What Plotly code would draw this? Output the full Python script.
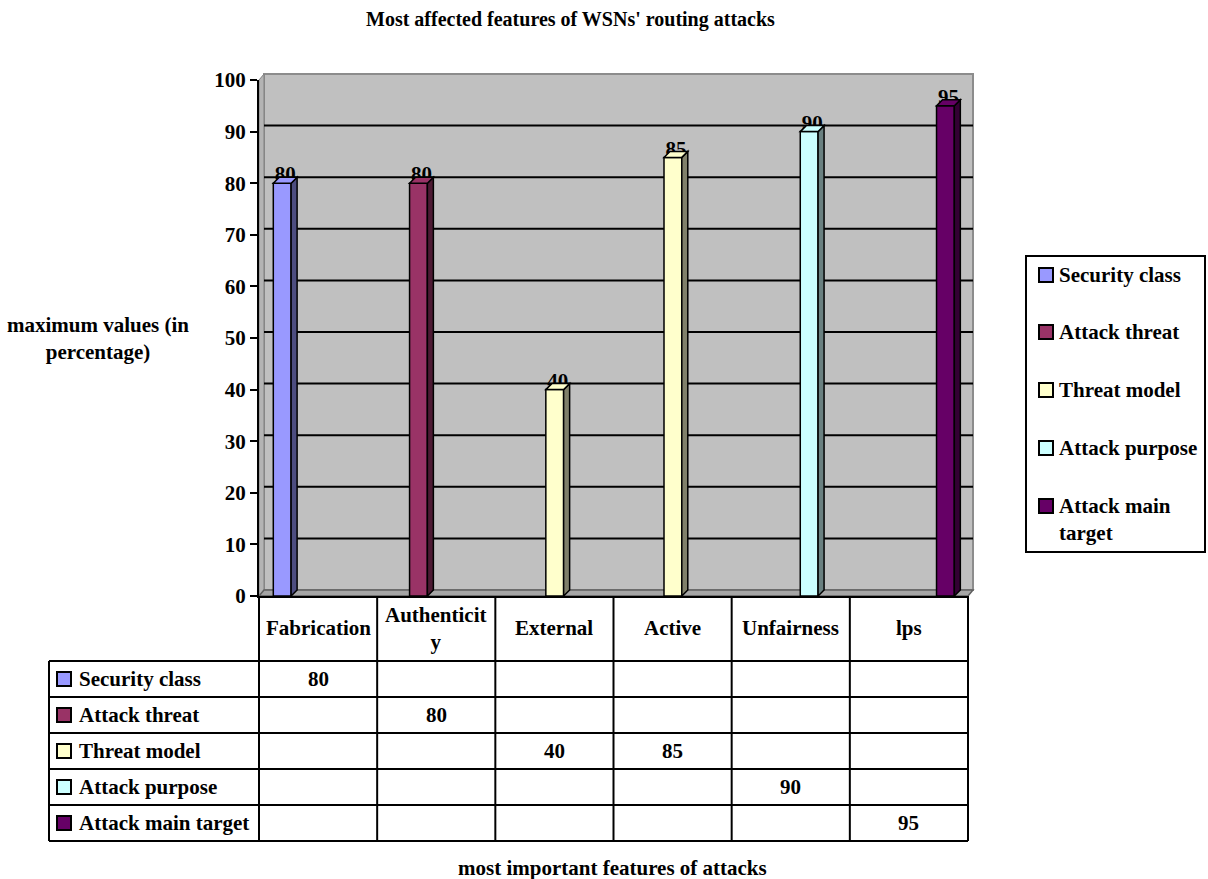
import plotly.graph_objects as go

# ---- data -------------------------------------------------------------
categories = ["Fabrication", "Authenticity", "External", "Active", "Unfairness", "lps"]
header_labels = ["Fabrication", "Authenticit<br>y", "External", "Active", "Unfairness", "lps"]

series_names = ["Security class", "Attack threat", "Threat model", "Attack purpose", "Attack main target"]
legend_labels = ["Security class", "Attack threat", "Threat model", "Attack purpose", "Attack main<br>target"]

security_class = [80, None, None, None, None, None]
attack_threat = [None, 80, None, None, None, None]
threat_model = [None, None, 40, 85, None, None]
attack_purpose = [None, None, None, None, 90, None]
attack_main_target = [None, None, None, None, None, 95]
series_values = [security_class, attack_threat, threat_model, attack_purpose, attack_main_target]

y_ticks = [0, 10, 20, 30, 40, 50, 60, 70, 80, 90, 100]

face_colors = ["#9999FF", "#993366", "#FFFFCC", "#CCFFFF", "#660066"]
side_colors = ["#4D4D80", "#4D1A33", "#80806A", "#6A8080", "#330033"]

title_text = "Most affected features of WSNs' routing attacks"
y_title_text = "maximum values (in<br>percentage)"
x_title_text = "most important features of attacks"

# ---- layout geometry (pixels) ------------------------------------------
W, H = 1208, 879
L, R, T, B = 259, 968, 80, 596          # plot area edges
NCAT = len(categories)
X_RANGE = [-0.5, NCAT - 0.5]
Y_RANGE = [0, 100]

PX_PER_X = (R - L) / NCAT                 # pixels per category unit
PX_PER_Y = (B - T) / (Y_RANGE[1] - Y_RANGE[0])

WALL_DX, WALL_DY = 5, 6                   # depth of the back wall
BAR_DEPTH = 6                             # depth of each column
ddx = BAR_DEPTH / PX_PER_X
ddy = BAR_DEPTH / PX_PER_Y

BAR_W = 17.8 / PX_PER_X
SLOT = 18.1 / PX_PER_X
FIRST = -0.5 + 14.3 / PX_PER_X
LABEL_LIFT = 7 / PX_PER_Y

FONT = dict(family="Liberation Serif", size=21, color="black", weight="bold")


def pxx(p):
    return (p - L) / (R - L)


def pxy(p):
    return (B - p) / (B - T)


fig = go.Figure()
shapes = []
annotations = []

# ---- value labels (drawn first so the columns can overlap them) --------
lab_x, lab_y, lab_t = [], [], []
for k, vals in enumerate(series_values):
    for i, v in enumerate(vals):
        if v is None:
            continue
        x0 = i + FIRST + k * SLOT
        lab_x.append(x0 + (BAR_W + ddx) / 2)
        lab_y.append(v + LABEL_LIFT)
        lab_t.append(str(v))
fig.add_trace(go.Scatter(
    x=lab_x, y=lab_y, text=lab_t, mode="text", textposition="middle center",
    textfont=FONT, cliponaxis=False, showlegend=False, hoverinfo="skip"))

# ---- columns ------------------------------------------------------------
for k, (name, vals) in enumerate(zip(series_names, series_values)):
    fig.add_trace(go.Bar(
        name=name, x=list(range(NCAT)), y=vals,
        width=BAR_W, offset=FIRST + k * SLOT,
        marker=dict(color=face_colors[k], line=dict(color="black", width=1.5)),
        showlegend=False))
    for i, v in enumerate(vals):
        if v is None:
            continue
        x0 = i + FIRST + k * SLOT
        x1 = x0 + BAR_W
        # right-hand side face
        shapes.append(dict(
            type="path", xref="x", yref="y", layer="above",
            path=f"M{x1},0 L{x1 + ddx},{ddy} L{x1 + ddx},{v + ddy} L{x1},{v} Z",
            fillcolor=side_colors[k], line=dict(color="black", width=1.5)))
        # top face
        shapes.append(dict(
            type="path", xref="x", yref="y", layer="above",
            path=f"M{x0},{v} L{x1},{v} L{x1 + ddx},{v + ddy} L{x0 + ddx},{v + ddy} Z",
            fillcolor=face_colors[k], line=dict(color="black", width=1.5)))

# ---- 3-D walls and floor -----------------------------------------------
shapes.append(dict(
    type="rect", xref="paper", yref="paper", layer="below",
    x0=pxx(L + WALL_DX), x1=pxx(R + WALL_DX), y0=pxy(B - WALL_DY), y1=pxy(T - WALL_DY),
    fillcolor="#C0C0C0", line=dict(color="#8C8C8C", width=2)))
shapes.append(dict(
    type="path", xref="paper", yref="paper", layer="below",
    path=(f"M{pxx(L)},{pxy(B)} L{pxx(L)},{pxy(T)} L{pxx(L + WALL_DX)},{pxy(T - WALL_DY)} "
          f"L{pxx(L + WALL_DX)},{pxy(B - WALL_DY)} Z"),
    fillcolor="#B4B4B4", line=dict(color="#808080", width=1)))
shapes.append(dict(
    type="path", xref="paper", yref="paper", layer="below",
    path=(f"M{pxx(L)},{pxy(B)} L{pxx(R)},{pxy(B)} L{pxx(R + WALL_DX)},{pxy(B - WALL_DY)} "
          f"L{pxx(L + WALL_DX)},{pxy(B - WALL_DY)} Z"),
    fillcolor="#A6A6A6", line=dict(color="#606060", width=1.5)))

# gridlines on the back wall
for v in y_ticks[1:-1]:
    shapes.append(dict(
        type="line", xref="paper", yref="y", layer="below",
        x0=pxx(L + WALL_DX), x1=pxx(R + WALL_DX),
        y0=v + WALL_DY / PX_PER_Y, y1=v + WALL_DY / PX_PER_Y,
        line=dict(color="black", width=2)))

# ---- data table ---------------------------------------------------------
TABLE_LEFT = 49
HEADER_MID = 628
ROW_LINES = [661, 697, 733, 769, 805, 841]
KEY_X0, KEY_X1 = 57, 71
TEXT_X = 77

for yl in ROW_LINES:
    shapes.append(dict(type="line", xref="paper", yref="paper",
                       x0=pxx(TABLE_LEFT), x1=pxx(R), y0=pxy(yl), y1=pxy(yl),
                       line=dict(color="black", width=2)))
shapes.append(dict(type="line", xref="paper", yref="paper",
                   x0=pxx(TABLE_LEFT), x1=pxx(TABLE_LEFT),
                   y0=pxy(ROW_LINES[0]), y1=pxy(ROW_LINES[-1]),
                   line=dict(color="black", width=2)))
for c in range(NCAT + 1):
    shapes.append(dict(type="line", xref="paper", yref="paper",
                       x0=c / NCAT, x1=c / NCAT, y0=0, y1=pxy(ROW_LINES[-1]),
                       line=dict(color="black", width=2)))

for i, lab in enumerate(header_labels):
    annotations.append(dict(xref="x", yref="paper", x=i, y=pxy(HEADER_MID),
                            text=lab, showarrow=False, font=FONT,
                            xanchor="center", yanchor="middle", align="center"))

for k, (name, vals) in enumerate(zip(series_names, series_values)):
    yc = (ROW_LINES[k] + ROW_LINES[k + 1]) / 2
    shapes.append(dict(type="rect", xref="paper", yref="paper",
                       x0=pxx(KEY_X0), x1=pxx(KEY_X1), y0=pxy(yc + 7), y1=pxy(yc - 7),
                       fillcolor=face_colors[k], line=dict(color="black", width=2)))
    annotations.append(dict(xref="paper", yref="paper", x=pxx(TEXT_X), y=pxy(yc),
                            text=name, showarrow=False, font=FONT,
                            xanchor="left", yanchor="middle"))
    for i, v in enumerate(vals):
        if v is None:
            continue
        annotations.append(dict(xref="x", yref="paper", x=i, y=pxy(yc),
                                text=str(v), showarrow=False, font=FONT,
                                xanchor="center", yanchor="middle"))

# ---- legend box -----------------------------------------------------------
LEG_X0, LEG_X1, LEG_Y0, LEG_Y1 = 1026, 1205, 256, 552
LEG_KEY_X0, LEG_KEY_X1 = 1039, 1053
LEG_TEXT_X = 1057
LEG_ROWS = [275, 332, 390, 448, 506]
LINE_STEP = 26

shapes.append(dict(type="rect", xref="paper", yref="paper",
                   x0=pxx(LEG_X0), x1=pxx(LEG_X1), y0=pxy(LEG_Y1), y1=pxy(LEG_Y0),
                   fillcolor="white", line=dict(color="black", width=2)))
for k, lab in enumerate(legend_labels):
    yc = LEG_ROWS[k]
    shapes.append(dict(type="rect", xref="paper", yref="paper",
                       x0=pxx(LEG_KEY_X0), x1=pxx(LEG_KEY_X1), y0=pxy(yc + 7), y1=pxy(yc - 7),
                       fillcolor=face_colors[k], line=dict(color="black", width=2)))
    n_lines = lab.count("<br>") + 1
    annotations.append(dict(xref="paper", yref="paper", x=pxx(LEG_TEXT_X),
                            y=pxy(yc + (n_lines - 1) * LINE_STEP / 2),
                            text=lab, showarrow=False, font=FONT, align="left",
                            xanchor="left", yanchor="middle"))

# ---- titles -----------------------------------------------------------------
annotations.append(dict(xref="paper", yref="paper", x=pxx(570), y=pxy(19),
                        text=title_text, showarrow=False,
                        font=dict(FONT, size=20), xanchor="center", yanchor="middle"))
annotations.append(dict(xref="paper", yref="paper", x=pxx(98), y=pxy(338),
                        text=y_title_text, showarrow=False, font=FONT, align="center",
                        xanchor="center", yanchor="middle"))
annotations.append(dict(xref="paper", yref="paper", x=pxx(612), y=pxy(868),
                        text=x_title_text, showarrow=False, font=FONT,
                        xanchor="center", yanchor="middle"))

fig.update_layout(
    width=W, height=H, autosize=False,
    margin=dict(l=L, r=W - R, t=T, b=H - B, pad=0),
    paper_bgcolor="white", plot_bgcolor="white",
    barmode="overlay", showlegend=False,
    shapes=shapes, annotations=annotations,
    xaxis=dict(range=X_RANGE, showgrid=False, zeroline=False, showticklabels=False,
               ticks="", showline=True, linecolor="black", linewidth=2, fixedrange=True),
    yaxis=dict(range=Y_RANGE, tickvals=y_ticks, showgrid=False, zeroline=False,
               ticks="outside", ticklen=7, tickwidth=2, tickcolor="black",
               showline=True, linecolor="black", linewidth=2,
               tickfont=FONT, fixedrange=True),
)

fig.write_html("out.html", config={"displayModeBar": False})
